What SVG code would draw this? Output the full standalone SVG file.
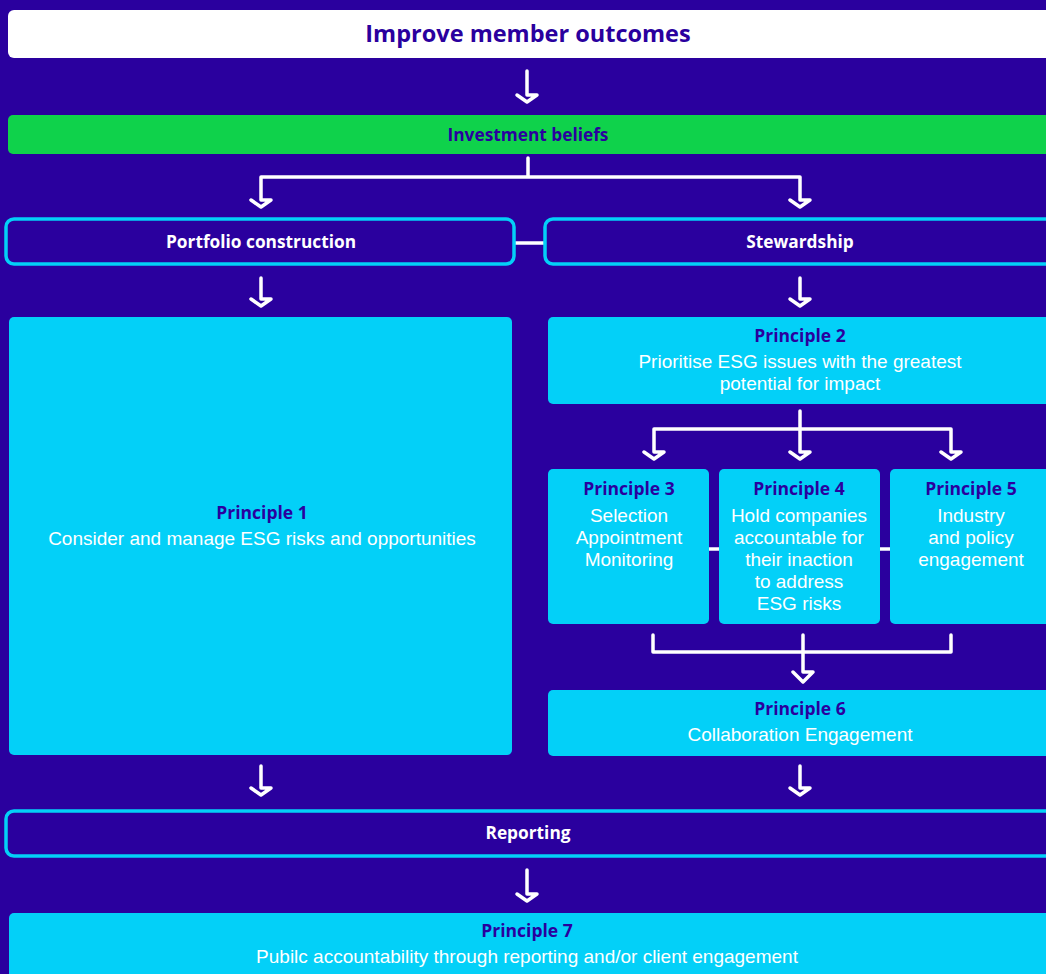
<svg xmlns="http://www.w3.org/2000/svg" width="1046" height="974" viewBox="0 0 1046 974">
<style>
.bg{fill:#2a009e}
.white{fill:#ffffff}
.green{fill:#0fd24b}
.outline{fill:#2a009e;stroke:#03d0f8;stroke-width:3.5}
.cyan{fill:#03d0f8}
.conn{fill:none;stroke:#ffffff;stroke-width:3.5;stroke-linejoin:round;stroke-linecap:round}
.link{stroke:#ffffff;stroke-width:3.5}
text{font-family:"Open Sans","Noto Sans","Liberation Sans",sans-serif;text-anchor:middle;dominant-baseline:central}
.h1{font-size:23.5px;font-weight:700;fill:#2a009e}
.h2{font-size:17.3px;font-weight:700;fill:#2a009e}
.hw{font-size:17.3px;font-weight:700;fill:#ffffff}
.pt{font-size:17.5px;font-weight:700;fill:#2a009e}
.body{font-family:"Liberation Sans",Arial,sans-serif;font-size:19px;fill:#ffffff}
</style>
<rect class="bg" x="0" y="0" width="1046" height="974"/>

<g id="connectors">
  <path class="conn" d="M527,71 V95 H537 L527,102 L517,95"/>
  <path class="conn" d="M528,158 V177 M261,177 H800 M261,177 V200 H271 L261,207 L251,200 M800,177 V200 H810 L800,207 L790,200"/>
  <line class="link" x1="514" y1="243" x2="546" y2="243"/>
  <path class="conn" d="M261,278 V299 H271 L261,306 L251,299"/>
  <path class="conn" d="M800,278 V299 H810 L800,306 L790,299"/>
  <path class="conn" d="M800,411 V452 H810 L800,459 L790,452 M654,429 H951 M654,429 V452 H664 L654,459 L644,452 M951,429 V452 H961 L951,459 L941,452"/>
  <line class="link" x1="709" y1="549" x2="719" y2="549"/>
  <line class="link" x1="880" y1="549" x2="890" y2="549"/>
  <path class="conn" d="M653,635 V652 H951 V635 M803,635 V672 H813 L803,682 L793,672"/>
  <path class="conn" d="M261,766 V788 H271 L261,795 L251,788"/>
  <path class="conn" d="M800,766 V788 H810 L800,795 L790,788"/>
  <path class="conn" d="M527,870 V894 H537 L527,901 L517,894"/>
</g>

<g id="goal">
  <rect class="white" x="8" y="10" width="1050" height="48" rx="6"/>
  <text class="h1" x="528" y="33">Improve member outcomes</text>
</g>
<g id="beliefs">
  <rect class="green" x="8" y="115" width="1050" height="39" rx="5"/>
  <text class="h2" x="528" y="134">Investment beliefs</text>
</g>
<g id="portfolio">
  <rect class="outline" x="6" y="219" width="508" height="45" rx="8"/>
  <text class="hw" x="261" y="241">Portfolio construction</text>
</g>
<g id="stewardship">
  <rect class="outline" x="545" y="219" width="510" height="45" rx="8"/>
  <text class="hw" x="800" y="241">Stewardship</text>
</g>
<g id="p1">
  <rect class="cyan" x="9" y="317" width="503" height="438" rx="5"/>
  <text class="pt" x="262" y="512">Principle 1</text>
  <text class="body" x="262" y="538">Consider and manage ESG risks and opportunities</text>
</g>
<g id="p2">
  <rect class="cyan" x="548" y="317" width="510" height="87" rx="5"/>
  <text class="pt" x="800" y="335">Principle 2</text>
  <text class="body" x="800" y="361">Prioritise ESG issues with the greatest</text>
  <text class="body" x="800" y="383">potential for impact</text>
</g>
<g id="p3">
  <rect class="cyan" x="548" y="469" width="161" height="155" rx="5"/>
  <text class="pt" x="629" y="488">Principle 3</text>
  <text class="body" x="629" y="515">Selection</text>
  <text class="body" x="629" y="537">Appointment</text>
  <text class="body" x="629" y="559">Monitoring</text>
</g>
<g id="p4">
  <rect class="cyan" x="719" y="469" width="161" height="155" rx="5"/>
  <text class="pt" x="799" y="488">Principle 4</text>
  <text class="body" x="799" y="515">Hold companies</text>
  <text class="body" x="799" y="537">accountable for</text>
  <text class="body" x="799" y="559">their inaction</text>
  <text class="body" x="799" y="581">to address</text>
  <text class="body" x="799" y="603">ESG risks</text>
</g>
<g id="p5">
  <rect class="cyan" x="890" y="469" width="170" height="155" rx="5"/>
  <text class="pt" x="971" y="488">Principle 5</text>
  <text class="body" x="971" y="515">Industry</text>
  <text class="body" x="971" y="537">and policy</text>
  <text class="body" x="971" y="559">engagement</text>
</g>
<g id="p6">
  <rect class="cyan" x="548" y="690" width="510" height="66" rx="5"/>
  <text class="pt" x="800" y="708">Principle 6</text>
  <text class="body" x="800" y="734">Collaboration Engagement</text>
</g>
<g id="reporting">
  <rect class="outline" x="6" y="811" width="1052" height="45" rx="8"/>
  <text class="hw" x="528" y="832">Reporting</text>
</g>
<g id="p7">
  <rect class="cyan" x="9" y="913" width="1050" height="80" rx="5"/>
  <text class="pt" x="527" y="930">Principle 7</text>
  <text class="body" x="527" y="956">Pubilc accountability through reporting and/or client engagement</text>
</g>
</svg>
